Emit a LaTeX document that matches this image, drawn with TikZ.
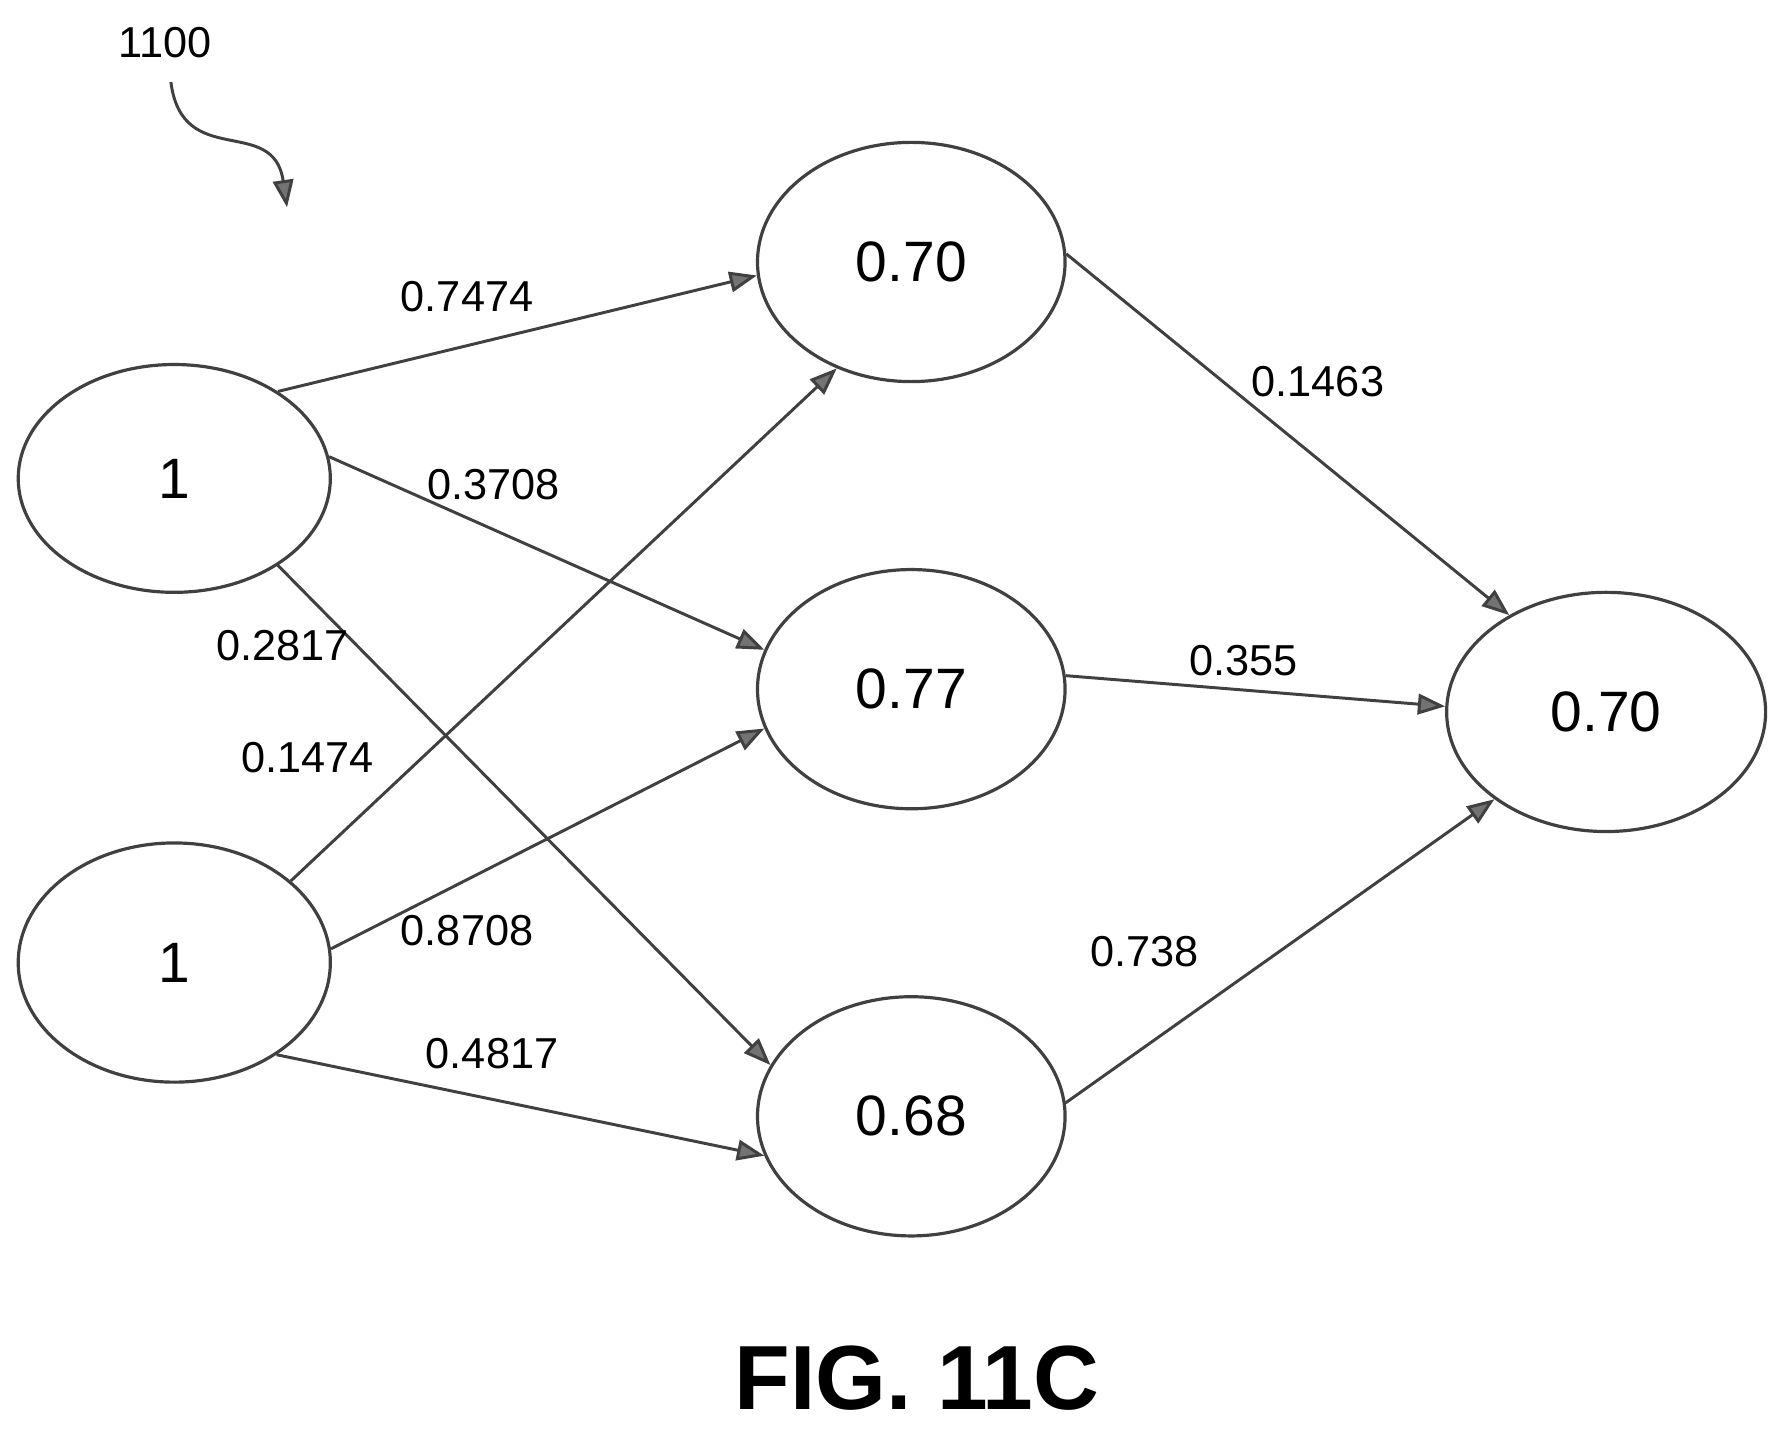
\documentclass[tikz,border=0pt]{standalone}
\usepackage{fontspec}
\setmainfont{Liberation Sans}
\usetikzlibrary{shapes.geometric,arrows.meta}
\begin{document}
\begin{tikzpicture}[x=0.5pt,y=-0.5pt,
  nd/.style={draw=black!75,line width=1.4pt,ellipse,inner sep=0pt,font=\fontsize{25}{27}\selectfont},
  ed/.style={draw=black!75,line width=1.3pt,-{Triangle[length=12pt,width=9pt,fill=black!55]}},
  lb/.style={font=\fontsize{19}{21}\selectfont}]
\useasboundingbox (0,0) rectangle (1560,1258);
\node[nd,minimum width=137pt,minimum height=100pt] (i1) at (153,420) {1};
\node[nd,minimum width=137pt,minimum height=105pt] (i2) at (153,845) {1};
\node[nd,minimum width=135pt,minimum height=105pt] (h1) at (800,230) {0.70};
\node[nd,minimum width=135pt,minimum height=105pt] (h2) at (800,605) {0.77};
\node[nd,minimum width=135pt,minimum height=105pt] (h3) at (800,980) {0.68};
\node[nd,minimum width=140pt,minimum height=105pt] (o) at (1410,625) {0.70};
\draw[ed] (i1.40) -- (h1.185);
\draw[ed] (i1.8) -- (h2.165);
\draw[ed] (i1.320) -- (h3.160);
\draw[ed] (i2.35) -- (h1.235);
\draw[ed] (i2.5) -- (h2.195);
\draw[ed] (i2.318) -- (h3.195);
\draw[ed] (h1.3) -- (o.135);
\draw[ed] (h2.5) -- (o.178);
\draw[ed] (h3.5) -- (o.218);
\node[lb] (l1) at (410,260) {0.7474};
\node[lb] (l2) at (433,425) {0.3708};
\node[lb] (l3) at (248,567) {0.2817};
\node[lb] (l4) at (270,665) {0.1474};
\node[lb] (l5) at (410,817) {0.8708};
\node[lb] (l6) at (432,925) {0.4817};
\node[lb] (l7) at (1157,335) {0.1463};
\node[lb] (l8) at (1092,580) {0.355};
\node[lb] (l9) at (1005,835) {0.738};
\node[lb] (ref) at (145,37) {1100};
\coordinate (c0) at (150,72);
\coordinate (c1) at (252,182);
\draw[ed] (c0) .. controls (160,150) and (240,100) .. (c1);
\node[font=\bfseries\fontsize{40}{42}\selectfont] (fig) at (805,1210) {FIG. 11C};
\end{tikzpicture}
\end{document}
